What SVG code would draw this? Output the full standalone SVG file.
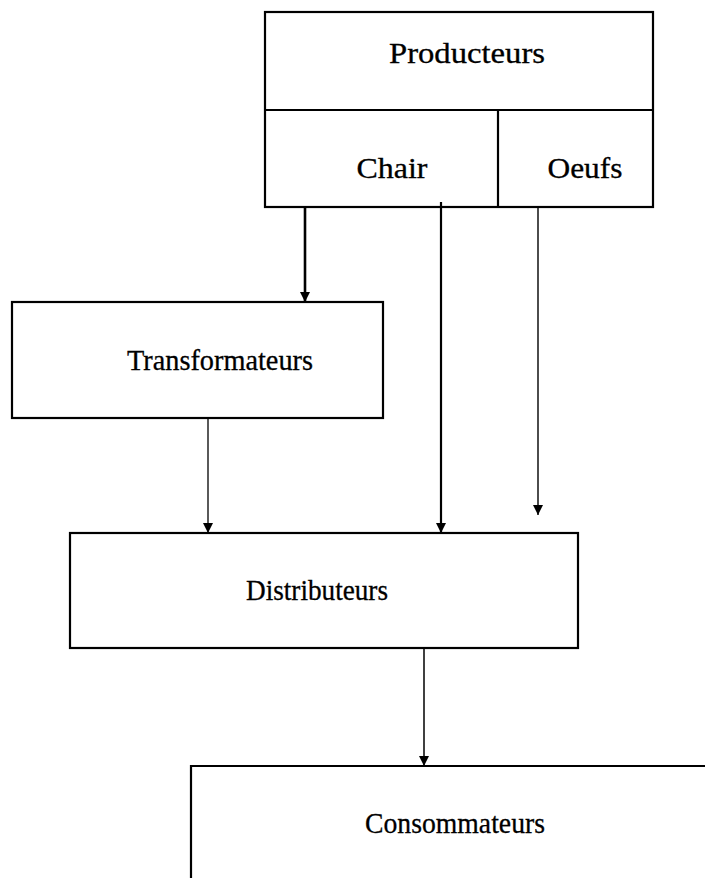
<svg xmlns="http://www.w3.org/2000/svg" width="705" height="878" viewBox="0 0 705 878">
  <style>
    .box { fill: none; stroke: #000; stroke-width: 2.2; }
    .lbl { font-family: "Liberation Serif", "Times New Roman", serif; font-size: 30px; fill: #000; stroke: #000; stroke-width: 0.3; text-anchor: middle; }
    .wire { stroke: #000; fill: none; }
  </style>
  <defs>
    <!-- solid triangular head, drawn along +x so orient="auto" follows the line -->
    <marker id="head" markerWidth="12" markerHeight="12" refX="11" refY="6" orient="auto" markerUnits="userSpaceOnUse" viewBox="0 0 12 12">
      <path d="M1,1 L11,6 L1,11 Z" fill="#000"/>
    </marker>
  </defs>
  <rect width="705" height="878" fill="#fff"/>

  <!-- producers, split into meat and eggs -->
  <g id="producteurs">
    <rect class="box" x="265" y="12" width="388" height="195"/>
    <line class="box" x1="265" y1="110" x2="653" y2="110" stroke-width="3"/>
    <line class="box" x1="498" y1="110" x2="498" y2="207"/>
    <text class="lbl" x="467" y="63" textLength="156" lengthAdjust="spacingAndGlyphs">Producteurs</text>
  </g>
  <g id="chair">
    <text class="lbl" x="392" y="178" textLength="71" lengthAdjust="spacingAndGlyphs">Chair</text>
  </g>
  <g id="oeufs">
    <text class="lbl" x="585" y="178" textLength="75" lengthAdjust="spacingAndGlyphs">Oeufs</text>
  </g>

  <g id="transformateurs">
    <rect class="box" x="12" y="302" width="371" height="116"/>
    <text class="lbl" x="220" y="370" textLength="186" lengthAdjust="spacingAndGlyphs">Transformateurs</text>
  </g>

  <g id="distributeurs">
    <rect class="box" x="70" y="533" width="508" height="115"/>
    <text class="lbl" x="317" y="600" textLength="142" lengthAdjust="spacingAndGlyphs">Distributeurs</text>
  </g>

  <g id="consommateurs">
    <path class="box" d="M191,880 L191,766 L710,766"/>
    <text class="lbl" x="455" y="833" textLength="180" lengthAdjust="spacingAndGlyphs">Consommateurs</text>
  </g>

  <!-- flows -->
  <g id="connectors">
    <line class="wire" x1="305" y1="207" x2="305" y2="302" stroke-width="2.6" marker-end="url(#head)"/>
    <line class="wire" x1="441" y1="202" x2="441" y2="533" stroke-width="2.2" marker-end="url(#head)"/>
    <line class="wire" x1="538" y1="207" x2="538" y2="515" stroke-width="1.4" marker-end="url(#head)"/>
    <line class="wire" x1="208" y1="418" x2="208" y2="533" stroke-width="1.3" marker-end="url(#head)"/>
    <line class="wire" x1="424" y1="648" x2="424" y2="766" stroke-width="1.5" marker-end="url(#head)"/>
  </g>
</svg>
